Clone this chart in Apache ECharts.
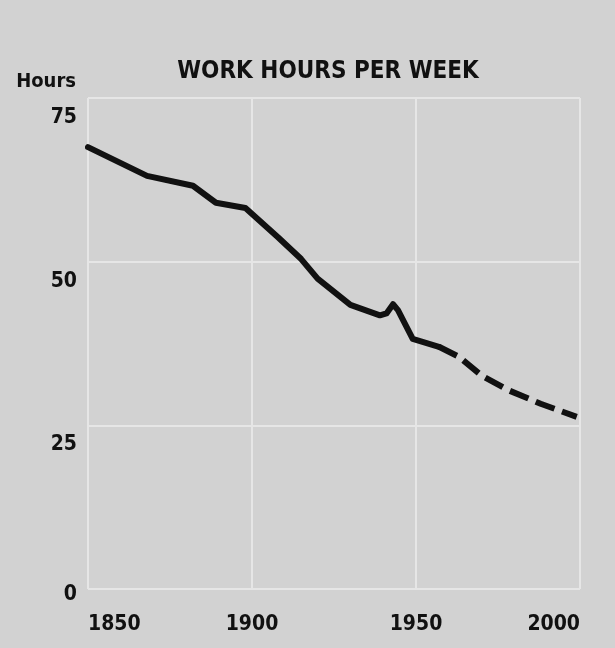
<!DOCTYPE html>
<html>
<head>
<meta charset="utf-8">
<title>Work hours per week</title>
<script src="https://cdn.jsdelivr.net/npm/echarts@6/dist/echarts.min.js"></script>
<style>
  html, body { margin: 0; padding: 0; background: #d2d2d2; }
  #chart { width: 615px; height: 648px; }
</style>
</head>
<body>
<div id="chart"></div>
<script>
// recorded hours (solid line)
var actualYears = [1850, 1868, 1882, 1889, 1898, 1908, 1915, 1920, 1930, 1939, 1941, 1943, 1944.5, 1949, 1957];
var actualHours = [67.5, 63.1, 61.6, 59.0, 58.2, 53.7, 50.4, 47.4, 43.4, 41.8, 42.1, 43.5, 42.6, 38.2, 37.0];
// projected hours (dashed line)
var projYears = [1957, 1963, 1970, 1978, 1988, 1999];
var projHours = [37.0, 35.5, 32.6, 30.4, 28.3, 26.3];

var xTicks = [1850, 1900, 1950, 2000];
var yTicks = [0, 25, 50, 75];

var font = '"DejaVu Sans Condensed", "Liberation Sans Narrow", "Liberation Sans", sans-serif';
var ink = '#111';
var gridColor = '#e6e6e6';

function pairs(xs, ys) {
  var out = [];
  for (var i = 0; i < xs.length; i++) {
    out.push([xs[i], ys[i]]);
  }
  return out;
}

var chart = echarts.init(document.getElementById('chart'));

var option = {
  backgroundColor: '#d2d2d2',
  animation: false,
  title: {
    text: 'WORK HOURS PER WEEK',
    left: 323,
    textAlign: 'center',
    top: 55,
    textStyle: { fontFamily: font, fontSize: 24, fontWeight: 'bold', color: ink }
  },
  grid: { left: 88, right: 35, top: 98, bottom: 59 },
  xAxis: {
    type: 'value',
    min: xTicks[0],
    max: xTicks[xTicks.length - 1],
    interval: 50,
    axisLine: { show: false },
    axisTick: { show: false },
    splitLine: { show: true, lineStyle: { color: gridColor, width: 2 } },
    axisLabel: {
      margin: 25,
      alignMinLabel: 'left',
      alignMaxLabel: 'right',
      fontFamily: font, fontSize: 21, fontWeight: 'bold', color: ink,
      formatter: function (v) { return xTicks.indexOf(v) >= 0 ? String(v) : ''; }
    }
  },
  yAxis: [{
    type: 'value',
    min: yTicks[0],
    max: yTicks[yTicks.length - 1],
    interval: 25,
    name: 'Hours',
    nameLocation: 'end',
    nameGap: 16,
    nameTextStyle: {
      fontFamily: font, fontSize: 20, fontWeight: 'bold', color: ink,
      align: 'right', verticalAlign: 'middle', padding: [0, 12, 0, 0]
    },
    axisLine: { show: false },
    axisTick: { show: false },
    splitLine: { show: true, lineStyle: { color: gridColor, width: 2 } },
    axisLabel: {
      margin: 11,
      verticalAlign: 'top',
      padding: [9, 0, 0, 0],
      fontFamily: font, fontSize: 21, fontWeight: 'bold', color: ink,
      formatter: function (v) { return v === 0 ? '' : String(v); }
    }
  }, {
    // only carries the "0" label, which sits on its line rather than under it
    type: 'value',
    position: 'left',
    min: yTicks[0],
    max: yTicks[yTicks.length - 1],
    interval: 25,
    axisLine: { show: false },
    axisTick: { show: false },
    splitLine: { show: false },
    axisLabel: {
      margin: 11,
      verticalAlign: 'top',
      lineHeight: 12,
      fontFamily: font, fontSize: 21, fontWeight: 'bold', color: ink,
      formatter: function (v) { return v === 0 ? '0' : ''; }
    }
  }],
  series: [{
    name: 'actual',
    type: 'line',
    data: pairs(actualYears, actualHours),
    showSymbol: false,
    lineStyle: { color: ink, width: 6, cap: 'round', join: 'round' }
  }, {
    name: 'projected',
    type: 'line',
    data: pairs(projYears, projHours),
    showSymbol: false,
    lineStyle: { color: ink, width: 6, type: [20, 8], cap: 'butt', join: 'round' }
  }]
};

chart.setOption(option);
</script>
</body>
</html>
